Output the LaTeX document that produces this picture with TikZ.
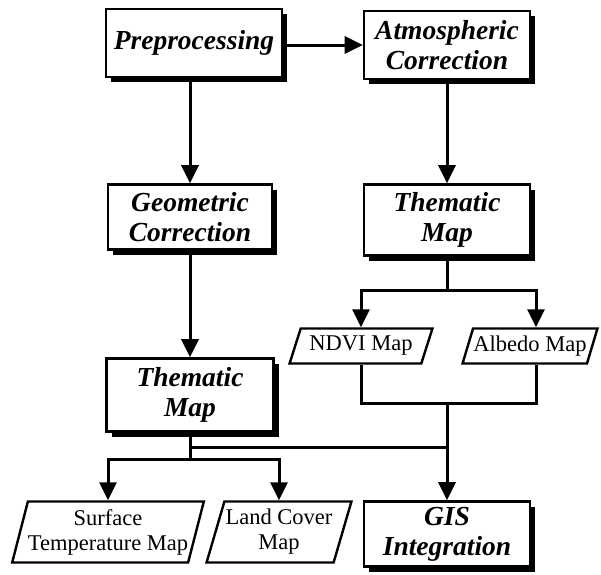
\documentclass[tikz,border=0pt]{standalone}
\usepackage{fontspec}
\setmainfont{Liberation Serif}
\usetikzlibrary{arrows.meta,shapes.geometric,shadows}

\begin{document}
\begin{tikzpicture}[x=1pt,y=-1pt,
  box/.style={draw,line width=2.6pt,fill=white,align=center,inner sep=0pt,
    font=\fontsize{27.5}{30}\selectfont\bfseries\itshape,
    drop shadow={shadow xshift=5pt,shadow yshift=-5pt,fill=black,opacity=1}},
  mapbox/.style={draw,line width=2.4pt,fill=white,align=center,inner sep=0pt,
    font=\fontsize{22.5}{25}\selectfont,trapezium,trapezium stretches=true},
  link/.style={line width=3pt},
  arr/.style={link,-{Triangle[length=18pt,width=17pt]}}]
\useasboundingbox (0,0) rectangle (601,574);

% processing steps
\node[box,minimum width=176pt,minimum height=68pt] (pre) at (194,43) {Preprocessing};
\node[box,minimum width=166pt,minimum height=68pt] (atm) at (447,45) {Atmospheric\\Correction};
\node[box,minimum width=164pt,minimum height=65pt] (geo) at (190,217) {Geometric\\Correction};
\node[box,minimum width=166pt,minimum height=71pt] (tmR) at (447,220) {Thematic\\Map};
\node[box,minimum width=167pt,minimum height=73pt] (tmL) at (190,395) {Thematic\\Map};
\node[box,minimum width=166pt,minimum height=65pt] (gis) at (447,534) {GIS\\Integration};

% output maps
\node[mapbox,trapezium left angle=64,trapezium right angle=116,
  minimum width=143pt,minimum height=35pt] (ndvi) at (361,346) {NDVI Map};
\node[mapbox,trapezium left angle=63,trapezium right angle=117,
  minimum width=135pt,minimum height=35pt] (albedo) at (530,346) {Albedo Map};
\node[mapbox,trapezium left angle=71,trapezium right angle=109,
  minimum width=187pt,minimum height=61pt] (surf) at (108,532) {Surface\\Temperature Map};
\node[mapbox,trapezium left angle=69,trapezium right angle=111,
  minimum width=145pt,minimum height=61pt] (land) at (279,532) {Land Cover\\Map};

\coordinate (jR) at (447,290);
\coordinate (jB) at (447,403);
\coordinate (jM) at (190,447);
\coordinate (jL) at (190,459);

\draw[arr] (pre.east |- atm.west) -- (atm.west);
\draw[arr] (geo.north |- pre.south) -- (geo.north);
\draw[arr] (geo.south) -- (tmL.north);
\draw[arr] (atm.south) -- (tmR.north);

\begin{scope}[link]
\draw (tmR.south) -- (jR);
\draw (ndvi.south) |- (jB);
\draw ([xshift=6pt]albedo.south) |- (jB);
\draw (tmL.south) -- (jL);
\draw (jM) -- (jM -| gis.north);
\end{scope}
\draw[arr] (jR) -| (ndvi.north);
\draw[arr] (jR) -| ([xshift=6pt]albedo.north);
\draw[arr] (jB) -- (gis.north);
\draw[arr] (jL) -| (surf.north);
\draw[arr] (jL) -| (land.north);
\end{tikzpicture}
\end{document}
